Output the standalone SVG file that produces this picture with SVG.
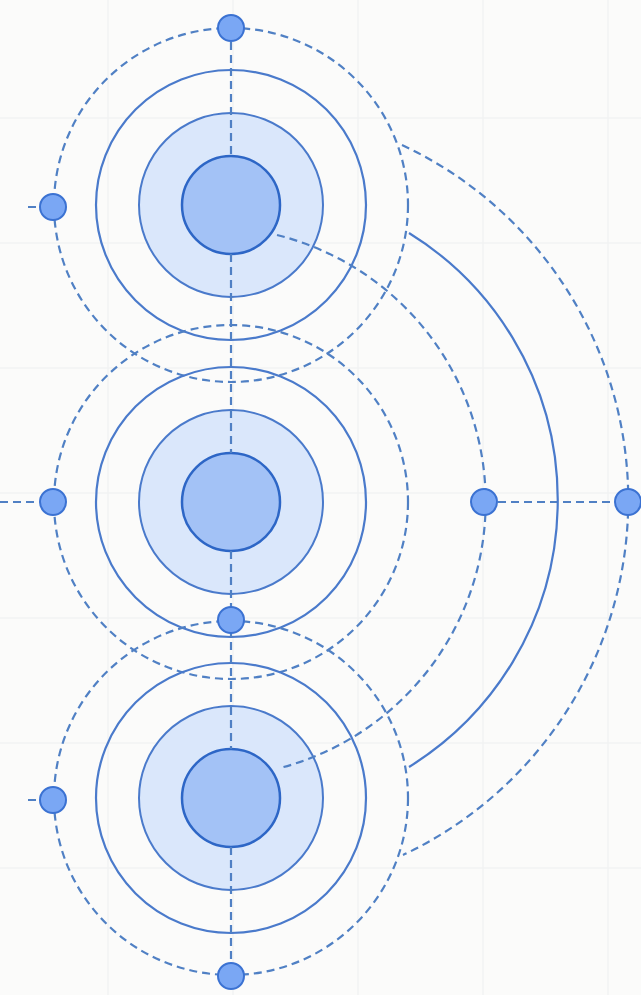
<svg xmlns="http://www.w3.org/2000/svg" width="641" height="995" viewBox="0 0 641 995">
<style>
.grid{stroke:#f2f3f3;stroke-width:1.5;fill:none}
.mid{fill:#dae7fb;stroke:#4a7acb;stroke-width:2}
.core{fill:#a3c2f6;stroke:#2d66c6;stroke-width:2.5}
.ring{fill:none;stroke:#4a7acb;stroke-width:2.2}
.dring{fill:none;stroke:#5080c4;stroke-width:2.2;stroke-dasharray:8 5}
.dash{fill:none;stroke:#5080c4;stroke-width:2.2;stroke-dasharray:8 5}
.solid{fill:none;stroke:#4a7acb;stroke-width:2.2}
.dot{fill:#7aa7f4;stroke:#3b72d2;stroke-width:2}
</style>
<rect width="641" height="995" fill="#fbfbfa"/>
<g id="grid" class="grid">
<path d="M108 0V995M233 0V995M358 0V995M483 0V995M608 0V995M0 118H641M0 243H641M0 368H641M0 493H641M0 618H641M0 743H641M0 868H641"/>
</g>
<g id="system-top">
<circle class="dring" cx="231" cy="205" r="177"/>
<circle class="ring" cx="231" cy="205" r="135"/>
<circle class="mid" cx="231" cy="205" r="92"/>
<circle class="core" cx="231" cy="205" r="49"/>
</g>
<g id="system-middle">
<circle class="dring" cx="231" cy="502" r="177"/>
<circle class="ring" cx="231" cy="502" r="135"/>
<circle class="mid" cx="231" cy="502" r="92"/>
<circle class="core" cx="231" cy="502" r="49"/>
</g>
<g id="system-bottom">
<circle class="dring" cx="231" cy="798" r="177"/>
<circle class="ring" cx="231" cy="798" r="135"/>
<circle class="mid" cx="231" cy="798" r="92"/>
<circle class="core" cx="231" cy="798" r="49"/>
</g>
<g id="connectors">
<path class="dash" d="M231 42V156M231 254V453M231 551V749M231 847V962"/>
<path class="dash" d="M0 502H39M498 502H615M28 207H39M28 800H39"/>
<path class="dash" d="M277 235A275 275 0 0 1 280 768"/>
<path class="solid" d="M409 233A314 314 0 0 1 409 767"/>
<path class="dash" d="M402 145A392 392 0 0 1 403 855"/>
</g>
<g id="node-top"><circle class="dot" cx="231" cy="28" r="13"/></g>
<g id="node-left-top"><circle class="dot" cx="53" cy="207" r="13"/></g>
<g id="node-left-middle"><circle class="dot" cx="53" cy="502" r="13"/></g>
<g id="node-left-bottom"><circle class="dot" cx="53" cy="800" r="13"/></g>
<g id="node-center-bottom"><circle class="dot" cx="231" cy="620" r="13"/></g>
<g id="node-bottom"><circle class="dot" cx="231" cy="976" r="13"/></g>
<g id="node-right-inner"><circle class="dot" cx="484" cy="502" r="13"/></g>
<g id="node-right-outer"><circle class="dot" cx="628" cy="502" r="13"/></g>
</svg>
